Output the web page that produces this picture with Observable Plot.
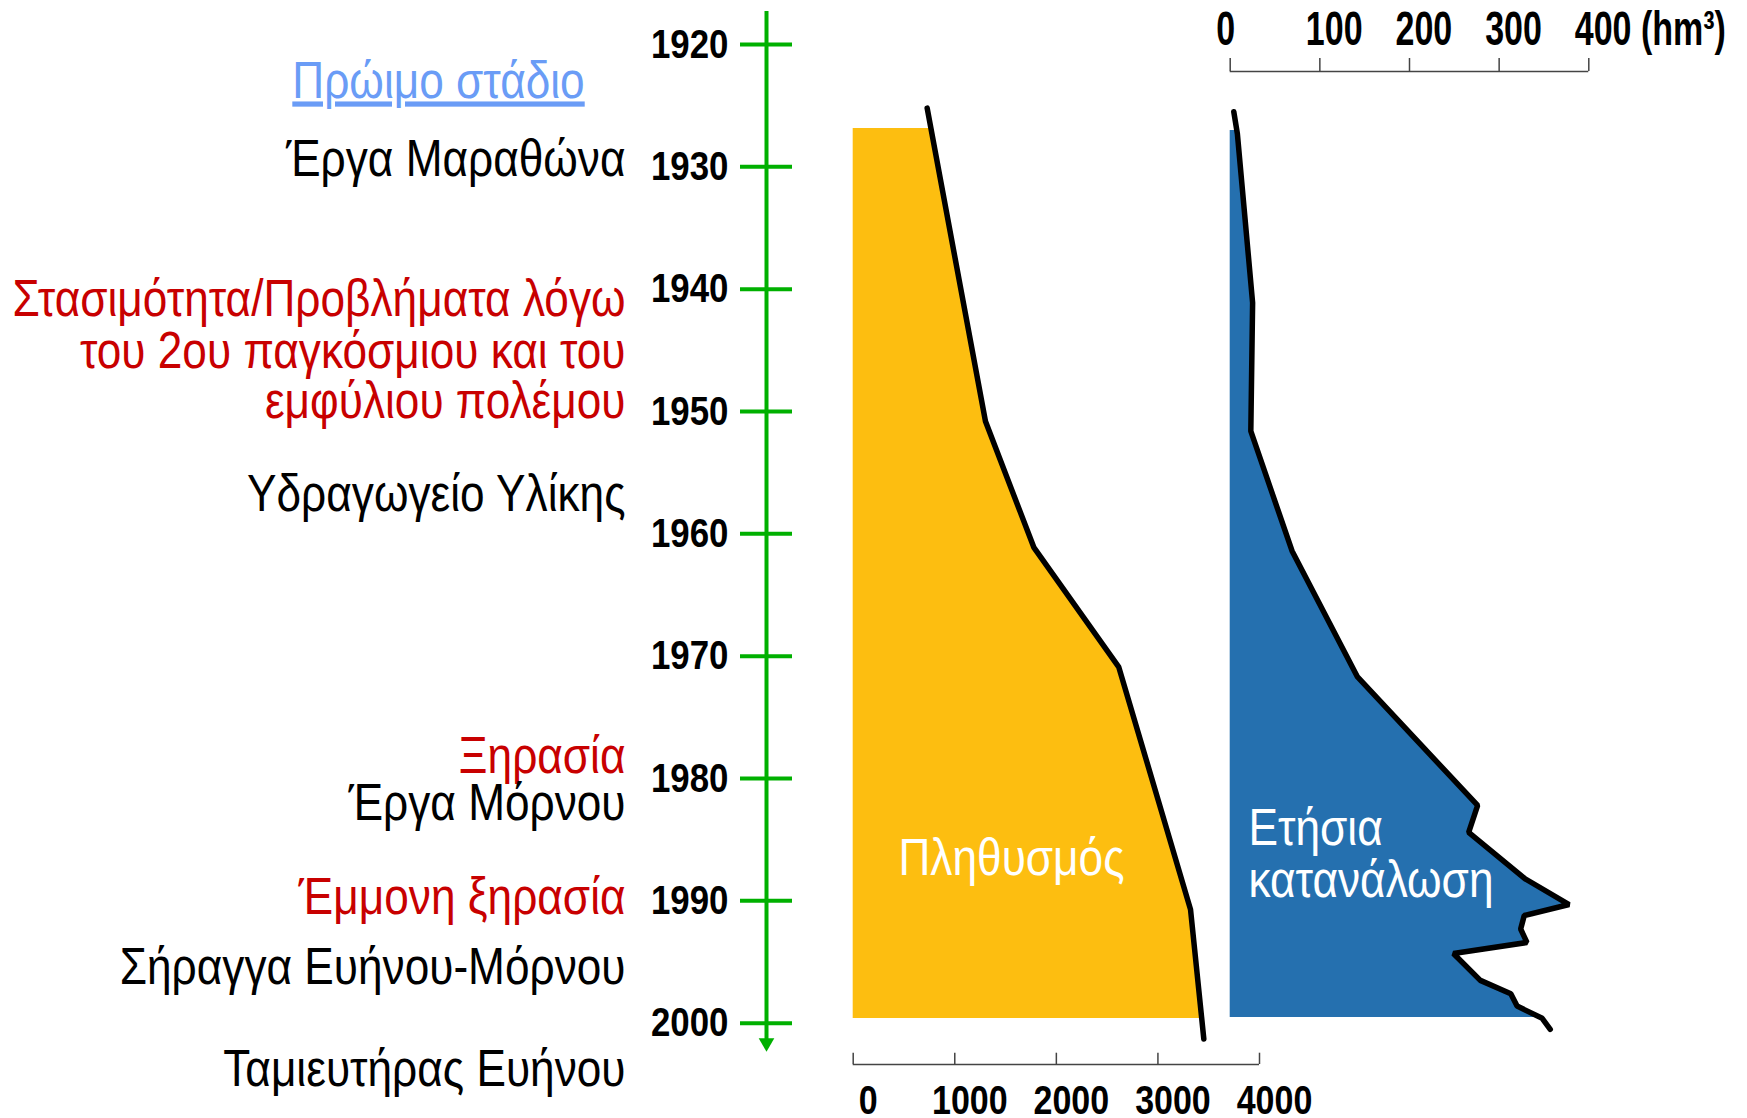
<!DOCTYPE html>
<html><head><meta charset="utf-8">
<script src="https://cdn.jsdelivr.net/npm/d3@7"></script>
<script src="https://cdn.jsdelivr.net/npm/@observablehq/plot@0.6"></script>
<style>
html,body{margin:0;padding:0;background:#fff;}
#chart{position:relative;width:1747px;height:1118px;overflow:hidden;background:#fff;}
#chart svg{position:absolute;left:0;top:0;overflow:visible;}
</style></head><body><div id="chart"></div>
<script>
// ---------- data ----------
const timelineYears = [1920, 1930, 1940, 1950, 1960, 1970, 1980, 1990, 2000];

const popYears  = [1925.2, 1950.8, 1961.1, 1970.9, 1990.7, 2001.3];
const popValues = [728, 1302, 1778, 2615, 3321, 3452];

const consYears  = [1925.5, 1927.3, 1941.1, 1951.6, 1961.4, 1971.7, 1982.2, 1984.4, 1988.2, 1990.3, 1991.2, 1992.3, 1993.4, 1994.3, 1996.5, 1997.6, 1998.6, 1999.6, 2000.5];
const consValues = [4, 8, 25, 23, 69, 142, 276, 266, 329, 378, 328, 324, 331, 249, 279, 313, 320, 348, 357];

const popTicks = [0, 1000, 2000, 3000, 4000];
const popTickLabels = ["0", "1000", "2000", "3000", "4000"];
const consTicks = [0, 100, 200, 300, 400];
const consTickLabels = ["0", "100", "200", "300", "400 (hm\u00B3)"];

const headingLabel = "Πρώιμο στάδιο";
const headingYear = 1923.05;

const eventYears  = [1929.4, 1940.8, 1945.1, 1949.2, 1956.75, 1978.15, 1982.0, 1989.7, 1995.45, 2003.8];
const eventLabels = ["Έργα Μαραθώνα", "Στασιμότητα/Προβλήματα λόγω", "του 2ου παγκόσμιου και του", "εμφύλιου πολέμου",
                     "Υδραγωγείο Υλίκης", "Ξηρασία", "Έργα Μόρνου", "Έμμονη ξηρασία", "Σήραγγα Ευήνου-Μόρνου", "Ταμιευτήρας Ευήνου"];
const eventKinds  = ["work", "crisis", "crisis", "crisis", "work", "crisis", "work", "crisis", "work", "work"];

const popLabel = "Πληθυσμός";
const consLabel = "Ετήσια\nκατανάλωση";

// ---------- styling / layout ----------
const W = 1747, H = 1118;
const FONT = '"Liberation Sans", Arial, sans-serif';
const NARROW_FACTOR = 0.85; // emulate Arial Narrow by horizontal compression
const GREEN = "#00B000", YELLOW = "#FDBE10", BLUE = "#2570AF", RED = "#C80000", LIGHTBLUE = "#6A9CF6";
const kindColor = {work: "#000000", crisis: RED};
const yearScale = {domain: [1920, 2000], range: [44, 1022.7], axis: null};
const popX = {domain: [0, 4000], range: [852.7, 1259], axis: null};
const consX = {domain: [0, 400], range: [1229.7, 1588.3], axis: null};
const base = {width: W, height: H, style: {background: "transparent", overflow: "visible"}};

const pop = popYears.map((y, i) => ({year: y, value: popValues[i]}));
const cons = consYears.map((y, i) => ({year: y, value: consValues[i]}));
const events = eventYears.map((y, i) => ({year: y, label: eventLabels[i], kind: eventKinds[i]}));

const chart = document.getElementById("chart");

// Timeline with years and event annotations
const timeline = Plot.plot({
  ...base, margin: 0,
  x: {domain: [0, 1], range: [740, 792], axis: null},
  y: yearScale,
  color: {type: "identity"},
  marks: [
    Plot.ruleX([0.5], {x: d => d, y1: 1917.3, y2: 2001.6, stroke: GREEN, strokeWidth: 4}),
    Plot.ruleY(timelineYears, {y: d => d, x1: 0, x2: 1, stroke: GREEN, strokeWidth: 4}),
    Plot.dot([0.5], {x: d => d, y: 2001.6, symbol: "triangle", rotate: 180, r: 5.8, fill: GREEN, stroke: "none"}),
    Plot.text(timelineYears, {x: 0, y: d => d, text: d => String(d), textAnchor: "end", dx: -12,
      lineAnchor: "middle", fontSize: 41, fontWeight: "bold", fontFamily: FONT, fill: "#000"}),
    Plot.text(events, {x: 0, y: "year", text: "label", fill: d => kindColor[d.kind], textAnchor: "end", dx: -115,
      lineAnchor: "middle", fontSize: 52, fontFamily: FONT}),
    Plot.text([headingLabel], {x: 0, y: headingYear, text: d => d, fill: LIGHTBLUE, textAnchor: "middle", dx: -302,
      lineAnchor: "middle", fontSize: 52, fontFamily: FONT})
  ]
});
timeline.querySelectorAll("text").forEach(t => {
  if (t.textContent === headingLabel) t.style.textDecoration = "underline";
});
chart.appendChild(timeline);

// Population panel
chart.appendChild(Plot.plot({
  ...base, marginTop: 128, marginBottom: 100, marginLeft: 840, marginRight: 400,
  x: popX, y: yearScale,
  marks: [
    Plot.areaX(pop, {x: "value", y: "year", fill: YELLOW, clip: "frame"}),
    Plot.lineX(pop, {x: "value", y: "year", stroke: "#000", strokeWidth: 5.5, strokeLinecap: "round", strokeLinejoin: "miter"}),
    Plot.text([popLabel], {x: 1558, y: 1986.5, text: d => d, fill: "#fff", fontSize: 52, fontFamily: FONT, lineAnchor: "middle"})
  ]
}));

// Consumption panel
chart.appendChild(Plot.plot({
  ...base, marginTop: 130, marginBottom: 101, marginLeft: 1225, marginRight: 100,
  x: consX, y: yearScale,
  marks: [
    Plot.areaX(cons, {x: "value", y: "year", fill: BLUE, clip: "frame"}),
    Plot.lineX(cons, {x: "value", y: "year", stroke: "#000", strokeWidth: 5.5, strokeLinecap: "round", strokeLinejoin: "miter"}),
    Plot.text([consLabel], {x: 20.4, y: 1986.2, text: d => d, fill: "#fff", fontSize: 52, fontFamily: FONT,
      textAnchor: "start", lineAnchor: "middle", lineHeight: 1.0})
  ]
}));

// Population axis (bottom)
chart.appendChild(Plot.plot({
  ...base, margin: 0,
  x: popX, y: {domain: [0, 1], range: [1064, 1052.7], axis: null},
  marks: [
    Plot.ruleY([0], {y: d => d, x1: popTicks[0], x2: popTicks[popTicks.length - 1], stroke: "#444", strokeWidth: 1.5}),
    Plot.ruleX(popTicks, {x: d => d, y1: 0, y2: 1, stroke: "#444", strokeWidth: 1.5}),
    Plot.text(popTicks, {x: d => d, y: 0, text: (d, i) => popTickLabels[i], dx: 15, dy: 49, lineAnchor: "bottom",
      fontSize: 40, fontWeight: "bold", fontFamily: FONT, fill: "#000"})
  ]
}));

// Consumption axis (top)
chart.appendChild(Plot.plot({
  ...base, margin: 0,
  x: consX, y: {domain: [0, 1], range: [71, 58], axis: null},
  marks: [
    Plot.ruleY([0], {y: d => d, x1: consTicks[0], x2: consTicks[consTicks.length - 1], stroke: "#444", strokeWidth: 1.5}),
    Plot.ruleX(consTicks, {x: d => d, y1: 0, y2: 1, stroke: "#444", strokeWidth: 1.5})
  ]
}));
const consLabels = Plot.plot({
  ...base, margin: 0,
  x: consX, y: {domain: [0, 1], range: [44, 0], axis: null},
  marks: [
    Plot.text(consTicks, {x: d => d, y: 0, text: (d, i) => consTickLabels[i], dx: -14, textAnchor: "start", lineAnchor: "bottom",
      fontSize: 40, fontWeight: "bold", fontFamily: FONT, fill: "#000"})
  ]
});
consLabels.style.transformOrigin = "0 44px";
consLabels.style.transform = "scaleY(1.2)";
chart.appendChild(consLabels);

// Condense all texts horizontally (narrow typeface look)
chart.querySelectorAll("text").forEach(t => {
  const spans = t.querySelectorAll("tspan");
  const targets = spans.length ? Array.from(spans) : [t];
  targets.forEach(el => {
    const len = el.getComputedTextLength();
    if (len > 0) {
      el.setAttribute("textLength", (len * NARROW_FACTOR).toFixed(1));
      el.setAttribute("lengthAdjust", "spacingAndGlyphs");
    }
  });
});
</script></body></html>
